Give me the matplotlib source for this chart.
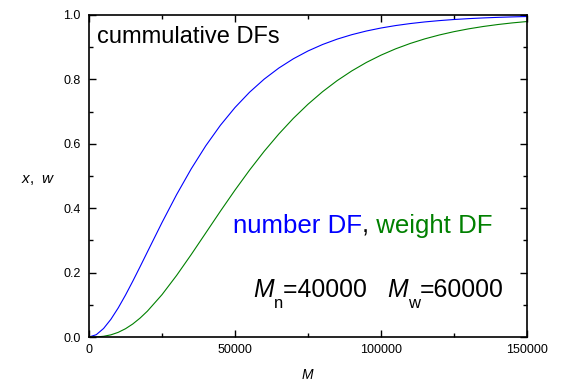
import matplotlib
matplotlib.use("Agg")
import matplotlib.pyplot as plt
from matplotlib.ticker import MultipleLocator, FormatStrFormatter
from matplotlib.transforms import offset_copy

plt.rcParams['font.family'] = ['Liberation Sans', 'DejaVu Sans']
plt.rcParams['mathtext.fontset'] = 'custom'
plt.rcParams['mathtext.rm'] = 'Liberation Sans'
plt.rcParams['mathtext.it'] = 'Liberation Sans:italic'

M = [0, 2500, 5000, 7500, 10000, 12500, 15000, 17500, 20000, 25000, 30000,
     35000, 40000, 45000, 50000, 55000, 60000, 65000, 70000, 75000, 80000,
     85000, 90000, 95000, 100000, 105000, 110000, 115000, 120000, 125000,
     130000, 135000, 140000, 145000, 150000]
number_cdf = [0.0, 0.0072, 0.0265, 0.0550, 0.0902, 0.1302, 0.1734, 0.2184,
              0.2642, 0.3554, 0.4422, 0.5221, 0.5940, 0.6575, 0.7127, 0.7603,
              0.8009, 0.8352, 0.8641, 0.8883, 0.9084, 0.9251, 0.9389, 0.9503,
              0.9596, 0.9672, 0.9734, 0.9785, 0.9826, 0.9860, 0.9887, 0.9909,
              0.9927, 0.9941, 0.9953]
weight_cdf = [0.0, 0.0003, 0.0022, 0.0067, 0.0144, 0.0257, 0.0405, 0.0588,
              0.0803, 0.1315, 0.1912, 0.2560, 0.3233, 0.3907, 0.4562, 0.5185,
              0.5768, 0.6304, 0.6792, 0.7229, 0.7619, 0.7963, 0.8264, 0.8527,
              0.8753, 0.8949, 0.9116, 0.9259, 0.9380, 0.9483, 0.9570, 0.9643,
              0.9704, 0.9755, 0.9797]

fig = plt.figure(figsize=(5.61, 3.85), dpi=100)
ax = fig.add_axes([89/561, 1 - 337/385, (527-89)/561, (337-15)/385])

ax.plot(M, number_cdf, color='#0000ff', lw=0.8)
ax.plot(M, weight_cdf, color='#008000', lw=0.8)

ax.set_xlim(0, 150000)
ax.set_ylim(0, 1.0)
ax.xaxis.set_major_locator(MultipleLocator(50000))
ax.xaxis.set_minor_locator(MultipleLocator(25000))
ax.yaxis.set_major_locator(MultipleLocator(0.2))
ax.yaxis.set_minor_locator(MultipleLocator(0.1))
ax.yaxis.set_major_formatter(FormatStrFormatter('%.1f'))
ax.tick_params(which='both', direction='in', top=True, right=True,
               labelsize=9, width=1.0, colors='black')
ax.tick_params(which='major', length=5)
ax.tick_params(axis='y', which='major', pad=6)
ax.tick_params(axis='x', which='major', pad=5)
ax.tick_params(which='minor', length=3)
for s in ax.spines.values():
    s.set_linewidth(1.2)

ax.set_xlabel('$M$', fontsize=10, labelpad=9)
ax.set_ylabel('$x$,  $w$', fontsize=11, rotation=0, labelpad=0,
              ha='center', va='center')
ax.yaxis.set_label_coords(-0.116, 0.488)

ax.text(0.018, 0.965, 'cummulative DFs', transform=ax.transAxes,
        fontsize=17, ha='left', va='top')


def place_pieces(x0, y0, pieces):
    """Place text pieces one after another; each piece is
    (text, fontsize, color, style, dy_points)."""
    fig.canvas.draw()
    renderer = fig.canvas.get_renderer()
    dx = 0.0
    for txt, fs, col, style, dy in pieces:
        tr = offset_copy(ax.transAxes, fig=fig, x=dx, y=dy, units='dots')
        t = ax.text(x0, y0, txt, transform=tr, fontsize=fs, color=col,
                    style=style, ha='left', va='baseline')
        bb = t.get_window_extent(renderer=renderer)
        dx += bb.width


place_pieces(0.329, 0.323, [
    ('number DF', 18.6, '#0000ff', 'normal', 0),
    (',', 18.6, 'black', 'normal', 0),
    ('\u00a0weight DF', 18.6, '#008000', 'normal', 0),
])

place_pieces(0.374, 0.124, [
    ('M', 17.8, 'black', 'italic', 0),
    ('n', 12, 'black', 'normal', -11),
    ('=40000\u00a0\u00a0\u00a0', 17.8, 'black', 'normal', 0),
    ('M', 17.8, 'black', 'italic', 0),
    ('w', 12, 'black', 'normal', -11),
    ('=60000', 17.8, 'black', 'normal', 0),
])

fig.savefig('out.png', dpi=100)
